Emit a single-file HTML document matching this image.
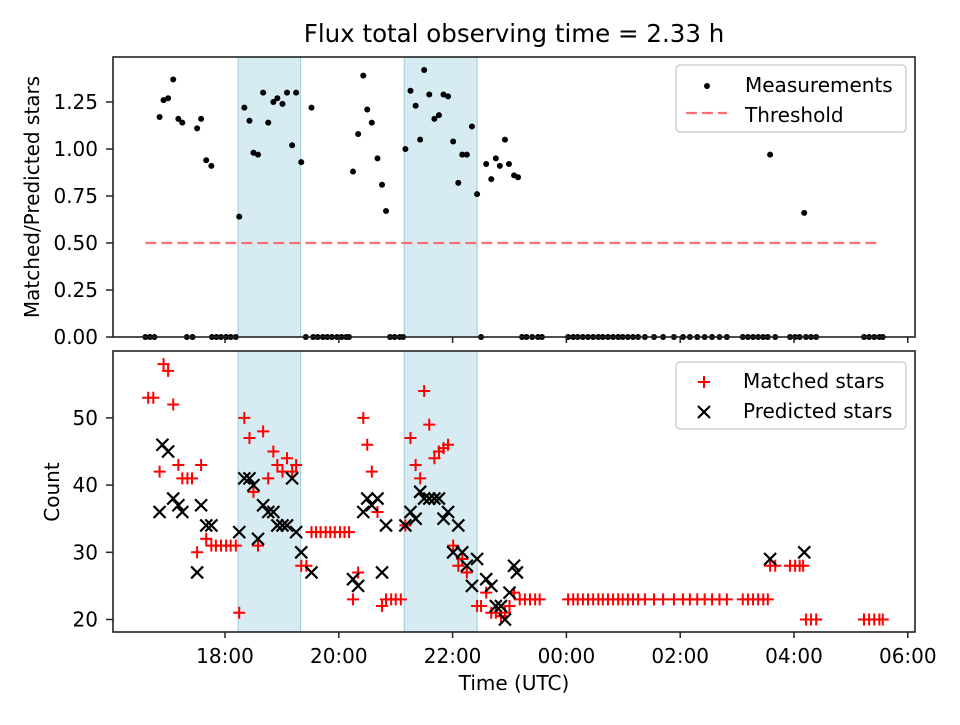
<!DOCTYPE html>
<html><head><meta charset="utf-8"><style>
body{margin:0;background:#fff;}
svg{font-family:"DejaVu Sans","Liberation Sans",sans-serif;}
</style></head><body>
<svg id="c" width="960" height="720" viewBox="0 0 960 720" xmlns="http://www.w3.org/2000/svg"></svg>
<script>
const ratioTimes=[16.85,16.92,17.0,17.09,17.18,17.25,17.51,17.58,17.67,17.76,18.25,18.34,18.43,18.5,18.58,18.67,18.76,18.85,18.92,19.01,19.09,19.18,19.25,19.34,19.52,20.25,20.34,20.43,20.5,20.58,20.68,20.76,20.83,21.17,21.26,21.35,21.43,21.5,21.59,21.68,21.76,21.84,21.92,22.01,22.1,22.17,22.25,22.34,22.43,22.59,22.68,22.76,22.83,22.92,22.99,23.08,23.15,27.58,28.18];
const ratioValues=[1.17,1.26,1.27,1.37,1.16,1.14,1.11,1.16,0.94,0.91,0.64,1.22,1.15,0.98,0.97,1.30,1.14,1.25,1.27,1.24,1.30,1.02,1.30,0.93,1.22,0.88,1.08,1.39,1.21,1.14,0.95,0.81,0.67,1.00,1.31,1.23,1.05,1.42,1.29,1.16,1.18,1.29,1.28,1.04,0.82,0.97,0.97,1.12,0.76,0.92,0.84,0.95,0.91,1.05,0.92,0.86,0.85,0.97,0.66];
const zeroTimes=[16.6,16.68,16.76,17.33,17.43,17.77,17.85,17.93,18.02,18.1,18.19,19.42,19.55,19.63,19.72,19.8,19.88,19.97,20.05,20.13,20.18,20.9,20.98,21.07,21.13,22.5,23.22,23.3,23.4,23.5,23.57,24.03,24.12,24.2,24.29,24.38,24.47,24.56,24.64,24.73,24.82,24.91,24.99,25.08,25.17,25.26,25.38,25.54,25.7,25.89,26.05,26.17,26.3,26.43,26.56,26.69,26.82,27.1,27.19,27.28,27.37,27.46,27.54,27.67,27.93,28.02,28.1,28.21,28.3,28.39,29.23,29.32,29.41,29.5,29.56];
const threshold=0.5, thrStart=16.6, thrEnd=29.5;
const matchedTimes=[16.65,16.74,16.85,16.92,17.0,17.09,17.18,17.25,17.34,17.42,17.51,17.58,17.67,17.76,17.84,17.93,18.02,18.1,18.19,18.25,18.34,18.43,18.5,18.58,18.67,18.76,18.85,18.92,19.01,19.09,19.18,19.25,19.34,19.43,19.52,19.6,19.68,19.77,19.85,19.93,20.02,20.1,20.18,20.25,20.34,20.43,20.5,20.58,20.68,20.76,20.83,20.92,21.0,21.09,21.17,21.26,21.35,21.43,21.5,21.59,21.68,21.76,21.84,21.92,22.01,22.1,22.17,22.25,22.43,22.5,22.59,22.68,22.76,22.85,22.92,23.0,23.08,23.18,23.27,23.36,23.45,23.53,24.03,24.12,24.2,24.29,24.38,24.47,24.56,24.64,24.73,24.82,24.91,24.99,25.08,25.17,25.26,25.38,25.54,25.7,25.89,26.05,26.17,26.3,26.43,26.56,26.69,26.82,27.1,27.19,27.28,27.37,27.46,27.54,27.58,27.67,27.93,28.02,28.1,28.16,28.21,28.3,28.39,29.23,29.32,29.41,29.5,29.56];
const matchedValues=[53,53,42,58,57,52,43,41,41,41,30,43,32,31,31,31,31,31,31,21,50,47,39,31,48,41,45,43,42,44,42,43,28,28,33,33,33,33,33,33,33,33,33,23,27,50,46,42,36,22,23,23,23,23,34,47,43,41,54,49,44,45,45.5,46,31,28,29,27,22,22,24,21,21,20.5,21,22,24,23,23,23,23,23,23,23,23,23,23,23,23,23,23,23,23,23,23,23,23,23,23,23,23,23,23,23,23,23,23,23,23,23,23,23,23,23,28,28,28,28,28,28,20,20,20,20,20,20,20,20];
const predTimes=[16.85,16.9,17.0,17.09,17.18,17.25,17.51,17.58,17.67,17.76,18.25,18.34,18.43,18.5,18.58,18.67,18.76,18.85,18.92,19.01,19.09,19.18,19.25,19.34,19.52,20.25,20.34,20.43,20.5,20.58,20.68,20.76,20.83,21.17,21.26,21.35,21.43,21.5,21.59,21.68,21.76,21.84,21.92,22.01,22.1,22.17,22.25,22.34,22.43,22.59,22.68,22.76,22.85,22.92,23.0,23.08,23.13,27.58,28.18];
const predValues=[36,46,45,38,37,36,27,37,34,34,33,41,41,40,32,37,36,36,34,34,34,41,33,30,27,26,25,36,38,37,38,27,34,34,36,35,39,38,38,38,38,35,36,30,34,30,28,25,29,26,25,22,22,20,24,28,27,29,30];
const xTicks=[18,20,22,24,26,28,30];
const xTickLabels=["18:00","20:00","22:00","00:00","02:00","04:00","06:00"];
const topTicks=[0,0.25,0.5,0.75,1.0,1.25];
const topTickLabels=["0.00","0.25","0.50","0.75","1.00","1.25"];
const botTicks=[20,30,40,50];
const bands=[[18.23,19.33],[21.15,22.43]];

const NS="http://www.w3.org/2000/svg";
const svg=document.getElementById('c');
function mk(tag,attrs,parent){const e=document.createElementNS(NS,tag);for(const k in attrs)e.setAttribute(k,attrs[k]);(parent||svg).appendChild(e);return e;}
const L=113,R=915;
const xS=h=>225+(h-18)*56.9;
const T={top:57,bot:337}, B={top:351,bot:632};
const yTop=v=>337-v*188;
const yBot=v=>619.5-(v-20)*6.72;
const FS=20;

let t=mk('text',{x:514,y:42,'text-anchor':'middle','font-size':24.5});t.textContent="Flux total observing time = 2.33 h";


function panel(P,name){
  for(const b of bands){
    const r=mk('rect',{x:xS(b[0]),y:P.top,width:xS(b[1])-xS(b[0]),height:P.bot-P.top,fill:'#add8e6','fill-opacity':0.5,stroke:'#9fcad8','stroke-width':1});
    
    
  }
}
panel(T,'top');panel(B,'bottom');

let th=mk('line',{x1:xS(thrStart),x2:xS(thrEnd),y1:yTop(threshold),y2:yTop(threshold),stroke:'#ff7070','stroke-width':2.2,'stroke-dasharray':'11,5'});


ratioTimes.forEach((h,i)=>{const c=mk('circle',{cx:xS(h),cy:yTop(ratioValues[i]),r:3,fill:'#000'});
});
zeroTimes.forEach(h=>{const c=mk('circle',{cx:xS(h),cy:yTop(0),r:3,fill:'#000'});
});

matchedTimes.forEach((h,i)=>{const x=xS(h),y=yBot(matchedValues[i]);
const g=mk('path',{d:`M${x-6},${y}H${x+6}M${x},${y-6}V${y+6}`,stroke:'#ff0000','stroke-width':2,fill:'none'});
});
predTimes.forEach((h,i)=>{const x=xS(h),y=yBot(predValues[i]);
const g=mk('path',{d:`M${x-6},${y-6}L${x+6},${y+6}M${x-6},${y+6}L${x+6},${y-6}`,stroke:'#000','stroke-width':2.2,fill:'none'});
});

function frame(P,name){const r=mk('rect',{x:L,y:P.top,width:R-L,height:P.bot-P.top,fill:'none',stroke:'#222','stroke-width':1.6});

xTicks.forEach((h,i)=>{mk('line',{x1:xS(h),x2:xS(h),y1:P.bot,y2:P.bot+6,stroke:'#222','stroke-width':1.5});
 if(name==='bottom'){const tx=mk('text',{x:xS(h),y:P.bot+31,'text-anchor':'middle','font-size':FS});tx.textContent=xTickLabels[i];
 }});
}
frame(T,'top');frame(B,'bottom');
topTicks.forEach((v,i)=>{mk('line',{x1:L-7,x2:L,y1:yTop(v),y2:yTop(v),stroke:'#222','stroke-width':1.5});
const tx=mk('text',{x:L-15,y:yTop(v)+7,'text-anchor':'end','font-size':FS});tx.textContent=topTickLabels[i];
});
botTicks.forEach(v=>{mk('line',{x1:L-7,x2:L,y1:yBot(v),y2:yBot(v),stroke:'#222','stroke-width':1.5});
const tx=mk('text',{x:L-15,y:yBot(v)+7,'text-anchor':'end','font-size':FS});tx.textContent=String(v);
});

let a=mk('text',{x:514,y:690,'text-anchor':'middle','font-size':FS});a.textContent="Time (UTC)";

a=mk('text',{x:0,y:0,'text-anchor':'middle','font-size':FS,transform:'translate(39,197) rotate(-90)'});a.textContent="Matched/Predicted stars";

a=mk('text',{x:0,y:0,'text-anchor':'middle','font-size':FS,transform:'translate(59,492) rotate(-90)'});a.textContent="Count";


function legend(y,name){const r=mk('rect',{x:676,y:y,width:230,height:67,rx:4,fill:'#fff','fill-opacity':0.8,stroke:'#d0d0d0','stroke-width':1.5});
}
legend(65,'top-legend');legend(362,'bottom-legend');
mk('circle',{cx:707,cy:86,r:3,fill:'#000'});
let lt=mk('text',{x:745,y:92,'font-size':FS});lt.textContent="Measurements";
mk('line',{x1:686,x2:727,y1:113,y2:113,stroke:'#ff7070','stroke-width':2.2,'stroke-dasharray':'11,5'});
lt=mk('text',{x:745,y:122,'font-size':FS});lt.textContent="Threshold";
mk('path',{d:'M698,382H710M704,376V388',stroke:'#f00','stroke-width':2});
lt=mk('text',{x:743,y:388,'font-size':FS});lt.textContent="Matched stars";
mk('path',{d:'M698,406L710,418M698,418L710,406',stroke:'#000','stroke-width':2.2});
lt=mk('text',{x:743,y:418,'font-size':FS});lt.textContent="Predicted stars";
</script>
</body></html>
